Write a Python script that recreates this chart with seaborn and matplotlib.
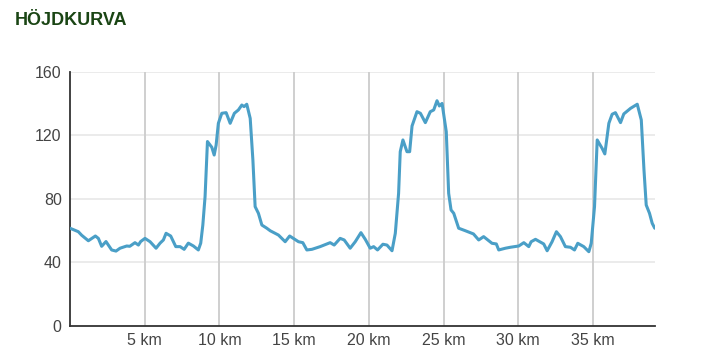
"""
Höjdkurva - elevation profile redrawn with seaborn
"""

import pandas as pd
import matplotlib.pyplot as plt
import seaborn as sns

# ---------- DATA ----------
distance_km = [
    0.0, 0.56, 0.78, 1.23, 1.7, 1.9, 2.12, 2.41, 2.79, 3.08, 3.35, 3.8, 4.0,
    4.35, 4.58, 4.73, 5.02, 5.36, 5.76, 6.03, 6.25, 6.43, 6.74, 7.08, 7.37,
    7.64, 7.92, 8.26, 8.59, 8.75, 8.89, 9.04, 9.2, 9.49, 9.65, 9.78, 9.93,
    10.16, 10.45, 10.72, 11.0, 11.27, 11.5, 11.65, 11.83, 12.06, 12.24, 12.39,
    12.61, 12.84, 13.17, 13.4, 13.73, 13.95, 14.4, 14.7, 15.29, 15.58, 15.85,
    16.19, 16.74, 17.41, 17.68, 18.08, 18.35, 18.75, 19.09, 19.47, 19.76,
    20.09, 20.32, 20.58, 20.94, 21.21, 21.55, 21.77, 21.99, 22.1, 22.28,
    22.55, 22.73, 22.89, 23.22, 23.45, 23.78, 24.11, 24.34, 24.56, 24.72,
    24.9, 25.18, 25.34, 25.5, 25.68, 26.01, 26.46, 27.0, 27.35, 27.68, 28.24,
    28.53, 28.69, 29.14, 29.47, 30.03, 30.37, 30.7, 30.86, 31.15, 31.7, 31.93,
    32.26, 32.55, 32.82, 33.15, 33.49, 33.76, 33.98, 34.38, 34.72, 34.88,
    35.1, 35.28, 35.61, 35.79, 36.06, 36.28, 36.5, 36.84, 37.06, 37.51,
    37.96, 38.23, 38.41, 38.56, 38.78, 38.96, 39.13,
]
elevation_m = [
    61.4, 59.2, 57.0, 53.5, 56.5, 55.0, 50.0, 53.0, 47.7, 47.0, 48.8, 50.2, 50.0,
    52.3, 50.8, 53.0, 55.0, 52.9, 48.8, 52.0, 54.0, 58.2, 56.5, 49.8, 49.8,
    48.1, 52.0, 50.2, 47.7, 52.0, 63.4, 81.3, 116.0, 112.4, 107.5, 113.8, 127.5,
    133.8, 134.2, 127.5, 133.8, 135.9, 139.0, 138.0, 139.5, 130.6, 104.4, 75.0,
    70.8, 63.4, 61.4, 59.8, 58.2, 57.1, 52.9, 56.5, 52.9, 52.3, 47.7,
    48.1, 49.8, 52.3, 50.8, 55.0, 54.0, 48.8, 52.9, 58.6, 54.4,
    48.8, 49.8, 47.7, 51.3, 50.8, 47.2, 58.2, 83.4, 109.6, 117.0,
    109.6, 109.6, 125.8, 134.8, 133.8, 127.9, 134.8, 135.9, 141.7, 138.4,
    140.0, 122.2, 83.4, 72.9, 70.8, 61.4, 59.8, 57.8, 54.0, 56.1, 51.9,
    51.5, 47.7, 48.8, 49.4, 50.2, 52.3, 49.8, 52.9, 54.4, 51.5, 47.2,
    52.9, 59.2, 56.1, 49.8, 49.4, 47.7, 51.9, 49.8, 46.6, 51.9,
    75.0, 117.0, 111.7, 108.2, 127.5, 133.2, 134.2, 127.9, 133.4, 136.9,
    139.5, 129.6, 98.1, 76.0, 70.8, 64.5, 61.4,
]
x_ticks = [5, 10, 15, 20, 25, 30, 35]
x_tick_labels = [f"{t} km" for t in x_ticks]
y_ticks = [0, 40, 80, 120, 160]

df = pd.DataFrame({"km": distance_km, "elev": elevation_m})

# ---------- STYLE ----------
sns.set_style("white")
plt.rcParams["font.family"] = ["Liberation Sans", "DejaVu Sans"]

fig = plt.figure(figsize=(7.14, 3.59), dpi=100)
ax = fig.add_axes([0.098, 0.0928, 0.819, 0.7075])

# grid first so line sits on top
for y in y_ticks[1:]:
    ax.axhline(y, color="#e8e8e8", lw=1.2, zorder=0)
for x in x_ticks:
    ax.axvline(x, color="#cccccc", lw=1.3, zorder=0)

sns.lineplot(data=df, x="km", y="elev", ax=ax, color="#4a9fc7", lw=2.2, zorder=3)

ax.set_xlim(0, max(distance_km))
ax.set_ylim(0, 160)
ax.set_xticks(x_ticks)
ax.set_xticklabels(x_tick_labels)
ax.set_yticks(y_ticks)
ax.set_xlabel("")
ax.set_ylabel("")
ax.tick_params(axis="both", length=0, labelsize=11.5, labelcolor="#444444")
ax.tick_params(axis="x", pad=5)
ax.tick_params(axis="y", pad=6)

for side in ["top", "right"]:
    ax.spines[side].set_visible(False)
for side in ["left", "bottom"]:
    ax.spines[side].set_color("#333333")
    ax.spines[side].set_linewidth(1.3)

fig.text(0.021, 0.93, "HÖJDKURVA", fontsize=13, fontweight="bold",
         color="#1a4514", ha="left", va="baseline")

plt.savefig("out.png", dpi=100)
plt.close()
